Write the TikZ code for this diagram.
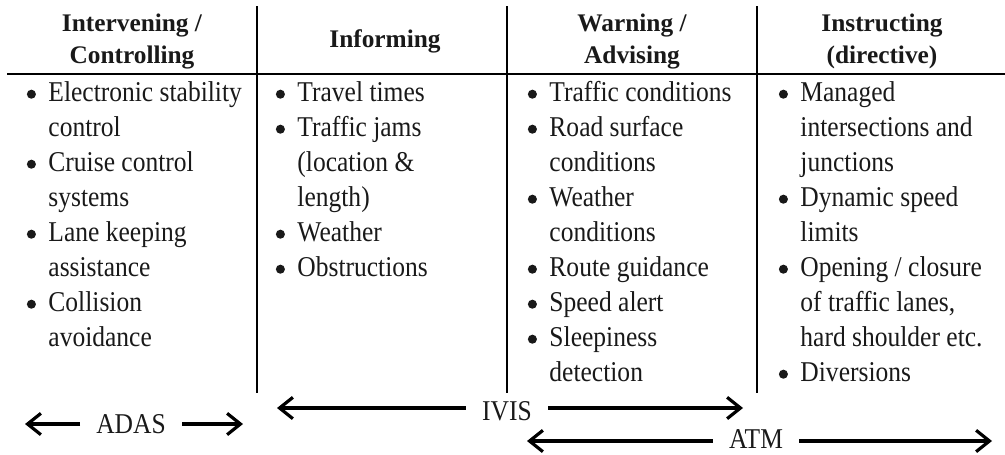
\documentclass[tikz,border=0pt]{standalone}
\usepackage{fontspec}
\setmainfont{Liberation Serif}
\newfontfamily\bodyfam[FakeStretch=0.89]{Liberation Serif}
\usetikzlibrary{arrows.meta}
\newcommand\bul{\makebox[17.4pt][l]{\tikz[baseline=0pt,x=1pt,y=1pt]{\useasboundingbox (0,0) rectangle (8,1); \fill[black!90] (4.6,5.3) circle (3.4);}}}
\newcommand\ind{\hspace*{17.4pt}}
\begin{document}
\begin{tikzpicture}[x=0.75pt,y=-0.75pt,
  rulestyle/.style={line width=1.3pt, black},
  arr/.style={line width=2.4pt, -{Straight Barb[length=10pt,width=16pt]}},
  hdr/.style={font=\fontsize{19}{24}\selectfont\bfseries, align=center, inner sep=0, anchor=north, text=black!90},
  body/.style={font=\bodyfam\fontsize{21.5}{26.25}\selectfont, align=left, inner sep=0, anchor=north west, text=black!90},
  lbl/.style={font=\bodyfam\fontsize{21.5}{26.25}\selectfont, inner xsep=12pt, inner ysep=0, text=black!90}]
\useasboundingbox (0,0) rectangle (1005,454);
% rules
\coordinate (hl) at (7,74);
\coordinate (hr) at (1005,74);
\coordinate (v1t) at (257,6);   \coordinate (v1b) at (257,393);
\coordinate (v2t) at (507,6);   \coordinate (v2b) at (507,393);
\coordinate (v3t) at (757,6);   \coordinate (v3b) at (757,393);
\draw[rulestyle] (hl) -- (hr);
\draw[rulestyle] (v1t) -- (v1b);
\draw[rulestyle] (v2t) -- (v2b);
\draw[rulestyle] (v3t) -- (v3b);
% headers
\node[hdr] (h1) at (132,8.6) {\strut Intervening /\\Controlling};
\node[hdr] (h2) at (385,24.6) {\strut Informing};
\node[hdr] (h3) at (632,8.6) {\strut Warning /\\Advising};
\node[hdr] (h4) at (882,8.6) {\strut Instructing\\(directive)};
% bodies
\node[body] (b1) at (25,76.5) {\strut\bul Electronic stability\\ \ind control\\ \bul Cruise control\\ \ind systems\\ \bul Lane keeping\\ \ind assistance\\ \bul Collision\\ \ind avoidance};
\node[body] (b2) at (274,76.5) {\strut\bul Travel times\\ \bul Traffic jams\\ \ind (location \&\\ \ind length)\\ \bul Weather\\ \bul Obstructions};
\node[body] (b3) at (526,76.5) {\strut\bul Traffic conditions\\ \bul Road surface\\ \ind conditions\\ \bul Weather\\ \ind conditions\\ \bul Route guidance\\ \bul Speed alert\\ \bul Sleepiness\\ \ind detection};
\node[body] (b4) at (777,76.5) {\strut\bul Managed\\ \ind intersections and\\ \ind junctions\\ \bul Dynamic speed\\ \ind limits\\ \bul Opening / closure\\ \ind of traffic lanes,\\ \ind hard shoulder etc.\\ \bul Diversions};
% scope labels and arrows
\node[lbl] (adas) at (131,424.5) {ADAS};
\node[lbl] (ivis) at (507,411) {IVIS};
\node[lbl] (atm) at (756,439.5) {ATM};
\coordinate (adasL) at (25,424);  \coordinate (adasR) at (243,424);
\coordinate (ivisL) at (277,408); \coordinate (ivisR) at (743,408);
\coordinate (atmL) at (527,441);  \coordinate (atmR) at (992,441);
\draw[arr] (adas.west |- adasL) -- (adasL);
\draw[arr] (adas.east |- adasR) -- (adasR);
\draw[arr] (ivis.west |- ivisL) -- (ivisL);
\draw[arr] (ivis.east |- ivisR) -- (ivisR);
\draw[arr] (atm.west |- atmL) -- (atmL);
\draw[arr] (atm.east |- atmR) -- (atmR);
\end{tikzpicture}
\end{document}
